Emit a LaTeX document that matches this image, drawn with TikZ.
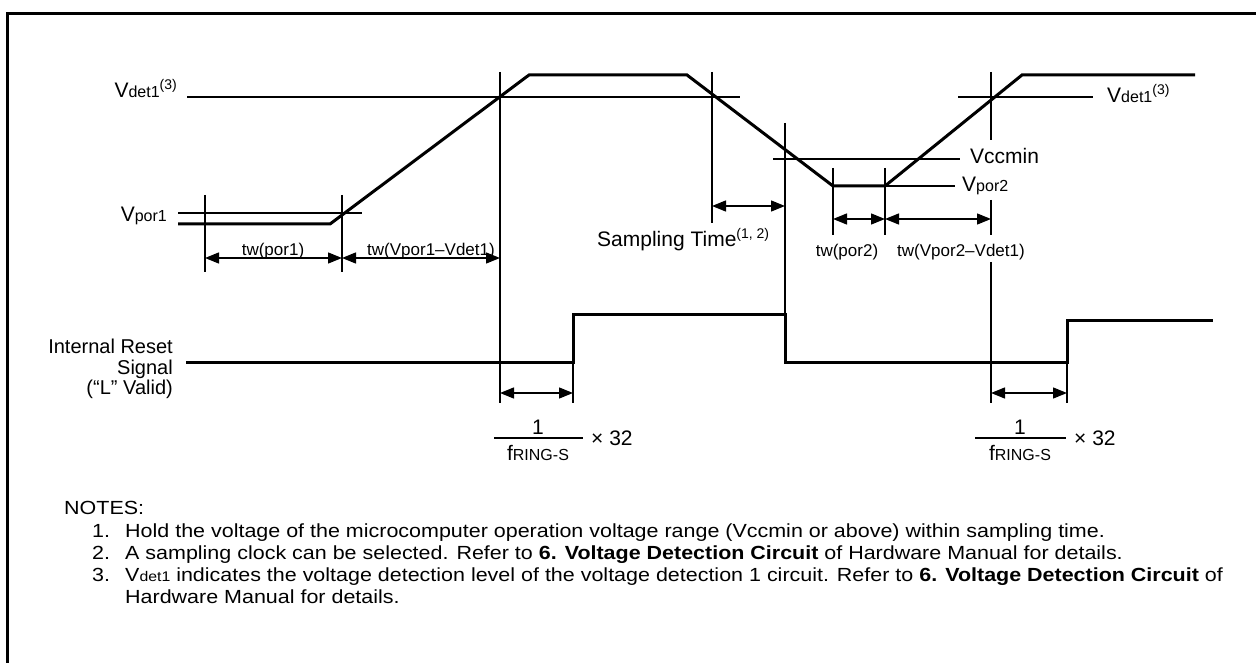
\documentclass[tikz,border=0pt]{standalone}
\usepackage{fontspec}
\usepackage{graphicx}
\setmainfont{Liberation Sans}
\usetikzlibrary{arrows.meta}
\newcommand{\nx}[1]{\scalebox{1.13}[1]{#1}}
\newcommand{\sml}[1]{{\fontsize{16}{16}\selectfont #1}}
\newcommand{\smn}[1]{{\fontsize{14}{14}\selectfont #1}}
\newcommand{\supr}[1]{\raisebox{8pt}{\fontsize{14}{14}\selectfont #1}}
\tikzset{
  sig/.style={line width=3pt, line join=miter},
  guide/.style={line width=1.4pt},
  dim/.style={line width=1.4pt, {Triangle[length=14pt,width=11pt]}-{Triangle[length=14pt,width=11pt]}},
  lab/.style={inner sep=0pt, font=\fontsize{21}{22}\selectfont},
  twlab/.style={inner sep=0pt, font=\fontsize{17}{18}\selectfont, anchor=base},
  note/.style={inner sep=0pt, font=\fontsize{19}{20}\selectfont, anchor=base west}
}
\begin{document}
\begin{tikzpicture}[x=1pt,y=-1pt]
\useasboundingbox (0,0) rectangle (1256,663);
% frame
\draw[line width=3pt] (7,663) -- (7,13.5) -- (1256,13.5);
% level lines
\draw[guide] (187,97) -- (740,97);
\draw[guide] (958,97) -- (1093,97);
\draw[guide] (178,213) -- (362,213);
\draw[guide] (773,159) -- (960,159);
\draw[guide] (885,186) -- (955,186);
% time marks
\draw[guide] (205,195) -- (205,272);
\draw[guide] (342,195) -- (342,272);
\draw[guide] (500,72) -- (500,403);
\draw[guide] (712,72) -- (712,223);
\draw[guide] (785,123) -- (785,314);
\draw[guide] (833,168) -- (833,235);
\draw[guide] (885,168) -- (885,235);
\draw[guide] (991,72) -- (991,140);
\draw[guide] (991,200) -- (991,235);
\draw[guide] (991,262) -- (991,403);
\draw[guide] (573,362) -- (573,403);
\draw[guide] (1067,362) -- (1067,403);
% supply voltage
\draw[sig] (178,224) -- (330,224) -- (529,75) -- (687,75) -- (833,186)
  -- (885,186) -- (1022,75) -- (1195,75);
% internal reset
\draw[sig] (186,362) -- (573,362) -- (573,314) -- (785,314) -- (785,362)
  -- (1067,362) -- (1067,320) -- (1213,320);
% widths
\coordinate (a1) at (205,258);
\coordinate (a2) at (342,258);
\coordinate (a3) at (500,258);
\coordinate (s1) at (712,206);
\coordinate (s2) at (785,206);
\coordinate (b1) at (833,219);
\coordinate (b2) at (885,219);
\coordinate (b3) at (991,219);
\coordinate (r1) at (500,393);
\coordinate (r2) at (573,393);
\coordinate (r3) at (991,393);
\coordinate (r4) at (1067,393);
\draw[dim] (a1) -- (a2);
\draw[dim] (a2) -- (a3);
\draw[dim] (s1) -- (s2);
\draw[dim] (b1) -- (b2);
\draw[dim] (b2) -- (b3);
\draw[dim] (r1) -- (r2);
\draw[dim] (r3) -- (r4);
% labels
\node[lab, anchor=base east] (vdetA) at (177,98) {V\sml{det1}\supr{(3)}};
\node[lab, anchor=base east] (vporA) at (167,222) {V\sml{por1}};
\node[lab, anchor=base west] (vdetB) at (1107,103) {V\sml{det1}\supr{(3)}};
\node[lab, anchor=base west] (vcc) at (970,164) {Vccmin};
\node[lab, anchor=base west] (vporB) at (962,192) {V\sml{por2}};
\node[twlab] (twA) at (273,255) {tw(por1)};
\node[twlab] (twB) at (431,255) {tw(Vpor1--Vdet1)};
\node[lab, anchor=base west] (samp) at (597,247) {Sampling Time\supr{(1, 2)}};
\node[twlab] (twC) at (847,257) {tw(por2)};
\node[twlab] (twD) at (961,257) {tw(Vpor2--Vdet1)};
\node[inner sep=0pt, anchor=north east] (rst) at (173,339)
  {\fontsize{20}{20}\selectfont\begin{tabular}{@{}r@{}}Internal Reset\\Signal\\(“L” Valid)\end{tabular}};
% 1/fRING-S x 32
\node[lab] (oneA) at (538,427) {1};
\draw[guide] (494,438) -- (583,438);
\node[lab] (fA) at (538,453) {f\sml{RING-S}};
\node[lab, anchor=west] (xA) at (591,438) {× 32};
\node[lab] (oneB) at (1020,427) {1};
\draw[guide] (975,438) -- (1066,438);
\node[lab] (fB) at (1020,453) {f\sml{RING-S}};
\node[lab, anchor=west] (xB) at (1074,438) {× 32};
% notes
\node[note] (nh) at (64,514) {\nx{NOTES:}};
\node[note] (n1) at (92,537) {\nx{1.}};
\node[note] (t1) at (125,537) {\nx{Hold the voltage of the microcomputer operation voltage range (Vccmin or above) within sampling time.}};
\node[note] (n2) at (92,559) {\nx{2.}};
\node[note] (t2) at (125,559) {\nx{A sampling clock can be selected. Refer to \textbf{6. Voltage Detection Circuit} of Hardware Manual for details.}};
\node[note] (n3) at (92,581) {\nx{3.}};
\node[note] (t3) at (125,581) {\nx{V\smn{det1} indicates the voltage detection level of the voltage detection 1 circuit. Refer to \textbf{6. Voltage Detection Circuit} of}};
\node[note] (t4) at (125,603) {\nx{Hardware Manual for details.}};
\end{tikzpicture}
\end{document}
